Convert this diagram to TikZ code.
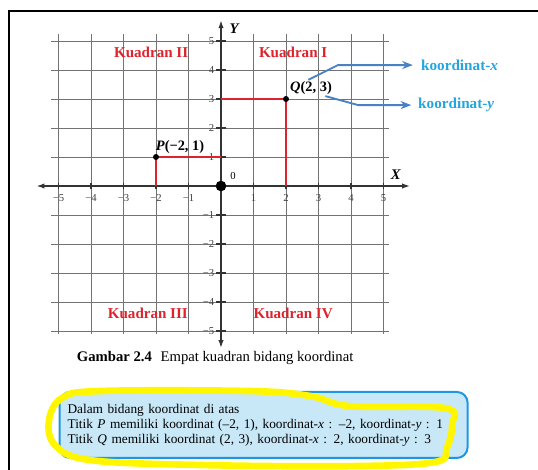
\documentclass[tikz,border=0pt]{standalone}
\usepackage{fontspec}
\setmainfont{Liberation Serif}
\usetikzlibrary{arrows.meta}
\definecolor{kred}{RGB}{222,35,45}
\definecolor{kblue}{RGB}{35,165,225}
\definecolor{arrblue}{RGB}{72,130,196}
\definecolor{boxfill}{RGB}{200,232,248}
\definecolor{boxline}{RGB}{30,150,225}
\definecolor{hilite}{RGB}{255,246,0}
\tikzstyle{gridline} =
[draw=black!55, line width=0.7pt]
\tikzstyle{axis} =
[draw=black!80, line width=1.1pt,
{Latex[length=6pt,width=4pt]}-{Latex[length=6pt,width=4pt]}]
\tikzstyle{tickno} =
[font=\fontsize{8}{9}\selectfont, inner sep=0pt, text=black!75]
\tikzstyle{kuadran} =
[font=\fontsize{11.3}{12}\selectfont\bfseries, text=kred]
\tikzstyle{redline} = [draw=kred, line width=1.8pt]
\tikzstyle{dot} =
[circle, fill=black, inner sep=0pt, minimum size=4.5pt]
\tikzstyle{ptlabel} =
[font=\fontsize{10.8}{12}\selectfont\bfseries, inner sep=1pt]
\tikzstyle{kname} =
[font=\fontsize{11.4}{12}\selectfont\bfseries, text=kblue, anchor=west,
inner sep=0pt]
\tikzstyle{infobox} =
[rectangle, rounded corners=8pt, draw=boxline, line width=1.5pt,
fill=boxfill, minimum width=306pt, minimum height=49.5pt,
text width=294pt, align=left,
font=\fontsize{10}{11.25}\selectfont]
\tikzstyle{line} =
[draw=arrblue, line width=1.4pt, -{Stealth[length=8pt,width=6pt]}]

\begin{document}
\begin{tikzpicture}[x=24.375pt, y=21.75pt]
  \path[use as bounding box, clip] (-6.8,-9.759) rectangle (9.754,6.414);
  % frame
  \draw[line width=1.5pt] (10,6.03) -- (-6.52,6.03) -- (-6.52,-10);
  % grid and axes
  \draw[gridline, xstep=1, ystep=1] (-5.23,-5.1) grid (5.17,5.24);
  \draw[axis] (-5.68,0) -- (5.82,0);
  \draw[axis] (0,-5.59) -- (0,5.72);
  \foreach \i in {-5,...,-1,1,2,...,5} {
    \draw[black!80, line width=0.9pt] (\i,-0.12) -- (\i,0.12);
    \draw[black!80, line width=0.9pt] (-0.15,\i) -- (0.15,\i);
  }
  \foreach \i in {1,...,5} {
    \node[tickno] at (\i,-0.4) {\i};
    \node[tickno] at (-\i,-0.4) {−\i};
    \node[tickno, anchor=east] at (-0.2,\i) {\i};
    \node[tickno, anchor=east] at (-0.2,-\i) {−\i};
  }
  \node[font=\fontsize{11}{12}\selectfont\bfseries\itshape] (ylab) at (0.4,5.42) {Y};
  \node[font=\fontsize{11}{12}\selectfont\bfseries\itshape] (xlab) at (5.38,0.4) {X};
  \node[font=\fontsize{8}{9}\selectfont] (olab) at (0.37,0.34) {0};
  % quadrants
  \node[kuadran] (k1) at (2.22,4.62) {Kuadran I};
  \node[kuadran] (k2) at (-2.15,4.62) {Kuadran II};
  \node[kuadran] (k3) at (-2.25,-4.38) {Kuadran III};
  \node[kuadran] (k4) at (2.22,-4.38) {Kuadran IV};
  % points
  \coordinate (p) at (-2,1);
  \coordinate (q) at (2,3);
  \draw[redline] (-2,0) -- (p) -- (0,1);
  \draw[redline] (0,3) -- (q) -- (2,0);
  \node[circle, fill=black, inner sep=0pt, minimum size=8pt] (O) at (0,0) {};
  \node[dot] (P) at (p) {};
  \node[dot] (Q) at (q) {};
  \node[ptlabel] (plab) at (-1.26,1.36) {\textit{P}(−2, 1)};
  \node[ptlabel] (qlab) at (2.77,3.38) {\textit{Q}(2, 3)};
  % coordinate names
  \node[kname] (kx) at (6.15,4.17) {koordinat-\textit{x}};
  \node[kname] (ky) at (6.06,2.79) {koordinat-\textit{y}};
  \path [line] ([xshift=-2pt]qlab.north) -- (3.6,4.17) -- ([xshift=-6pt]kx.west);
  \path [line] ([xshift=-6pt]qlab.south east) -- (4.22,2.79) -- ([xshift=-5pt]ky.west);
  % caption and box
  \node[font=\fontsize{11}{12}\selectfont] (cap) at (-0.18,-5.93)
   {\textbf{Gambar 2.4}\hspace{0.6em}Empat kuadran bidang koordinat};
  \node[infobox] (info) at (1.31,-8.24)
   {Dalam bidang koordinat di atas\\
    Titik \textit{P} memiliki koordinat (–2, 1), koordinat-\textit{x} : –2, koordinat-\textit{y} : 1\\
    Titik \textit{Q} memiliki koordinat (2, 3), koordinat-\textit{x} : 2, koordinat-\textit{y} : 3};
  \draw[hilite, line width=5pt, line join=round] plot[smooth cycle, tension=0.6] coordinates
   {(-5.29,-8.07) (-4.89,-7.31) (-3.72,-7.07) (0.89,-7.07) (2.74,-7.24)
    (3.97,-7.59) (6.89,-7.66) (7.11,-8.24) (6.95,-9.03) (6.58,-9.52)
    (3.97,-9.66) (-0.65,-9.62) (-4.03,-9.45) (-5.11,-8.93)};
\end{tikzpicture}
\end{document}
